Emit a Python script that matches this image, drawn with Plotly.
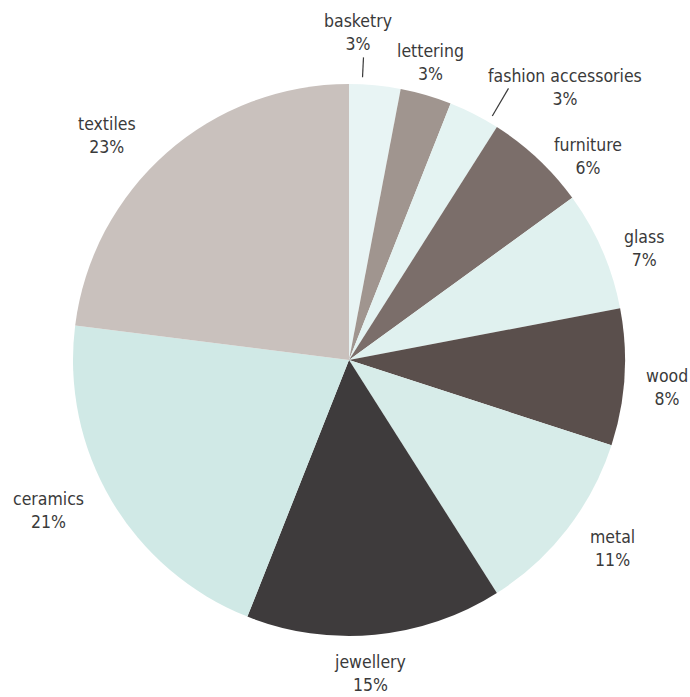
import math
import plotly.graph_objects as go

# Share of makers by craft discipline (percent)
crafts = ["basketry", "lettering", "fashion accessories", "furniture", "glass",
          "wood", "metal", "jewellery", "ceramics", "textiles"]
shares = [3, 3, 3, 6, 7, 8, 11, 15, 21, 23]
slice_colors = ["#e8f4f4", "#a0958f", "#e4f3f2", "#7b6e6a", "#e0f1ef",
                "#5a4f4c", "#d7ece9", "#3e3b3c", "#d0e9e6", "#c9c1bd"]

W, H = 690, 697
CX, CY, R = 349, 360, 276          # pie centre and radius in pixels
FONT = "DejaVu Sans Condensed, Roboto, sans-serif"
FSIZE = 17.5
TEXT_COLOR = "#3a3a3a"
GAP = 17                           # clearance between pie edge and label box

# label placement tweaks for crowded slices (degrees / pixels)
angle_shift = {"basketry": -3.8, "lettering": -0.8, "fashion accessories": 11.4,
               "furniture": 6.3, "glass": 2.8, "wood": 1.3, "metal": -2.2,
               "jewellery": 1.6, "ceramics": 4.0, "textiles": -5.8}
radial_push = {"basketry": 14, "lettering": -13, "fashion accessories": -8,
               "furniture": -19, "glass": -3, "wood": 8, "metal": 3, "ceramics": 6}
# leader lines: (blend of label shift applied to the line angle, line length)
leaders = {"basketry": (0.7, 20), "fashion accessories": (0.3, 32)}

fig = go.Figure(go.Pie(
    labels=crafts,
    values=shares,
    sort=False,
    direction="clockwise",
    rotation=0,
    marker=dict(colors=slice_colors, line=dict(width=0)),
    textinfo="none",
    hoverinfo="label+percent",
    showlegend=False,
    automargin=False,
    domain=dict(x=[(CX - R) / W, (CX + R) / W],
                y=[1 - (CY + R) / H, 1 - (CY - R) / H]),
))


def to_paper(px, py):
    return px / W, 1 - py / H


annotations, shapes = [], []
total = sum(shares)
cum = 0
for name, v in zip(crafts, shares):
    mid = 360 * (cum + v / 2) / total
    cum += v
    ang = math.radians(mid + angle_shift.get(name, 0))
    s, c = math.sin(ang), math.cos(ang)
    lines = [name, f"{v}%"]
    bw = max(len(t) for t in lines) * 0.46 * FSIZE
    bh = 2.2 * FSIZE
    dist = R + abs(s) * bw / 2 + abs(c) * bh / 2 + GAP + radial_push.get(name, 0)
    ax, ay = to_paper(CX + dist * s, CY - dist * c)
    annotations.append(dict(
        x=ax, y=ay, xref="paper", yref="paper",
        text="<br>".join(lines), showarrow=False,
        xanchor="center", yanchor="middle", align="center",
        font=dict(family=FONT, size=FSIZE, color=TEXT_COLOR),
    ))
    if name in leaders:
        blend, length = leaders[name]
        la = math.radians(mid + blend * angle_shift.get(name, 0))
        r0, r1 = R + 7, R + 7 + length
        x0, y0 = to_paper(CX + r0 * math.sin(la), CY - r0 * math.cos(la))
        x1, y1 = to_paper(CX + r1 * math.sin(la), CY - r1 * math.cos(la))
        shapes.append(dict(type="line", xref="paper", yref="paper",
                           x0=x0, y0=y0, x1=x1, y1=y1,
                           line=dict(color=TEXT_COLOR, width=1.2)))

fig.update_layout(
    width=W, height=H,
    margin=dict(l=0, r=0, t=0, b=0),
    paper_bgcolor="white",
    plot_bgcolor="white",
    annotations=annotations,
    shapes=shapes,
)

fig.write_html("out.html")
